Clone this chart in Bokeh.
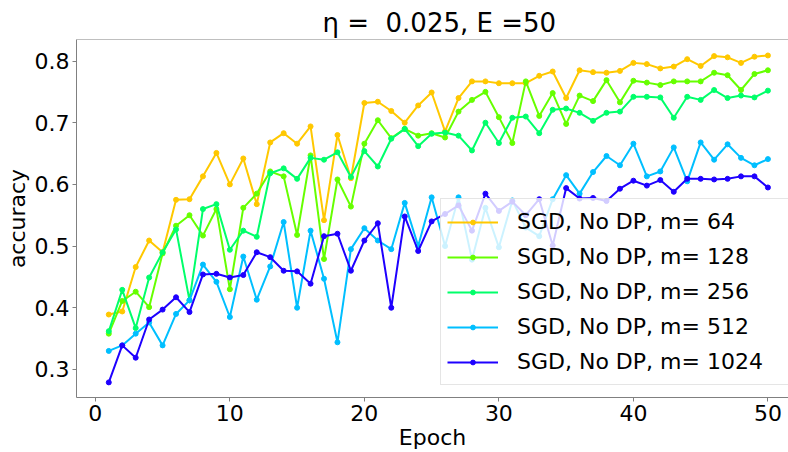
from bokeh.plotting import figure
from bokeh.models import Range1d, FixedTicker, Legend, LegendItem, Span
from bokeh.embed import file_html
from bokeh.resources import INLINE

# Test accuracy per epoch for plain SGD (no differential privacy) at several batch sizes
epochs = list(range(1, 51))

acc_m64 = [0.389, 0.394, 0.466, 0.509, 0.490, 0.575, 0.576, 0.613, 0.651, 0.600,
           0.642, 0.568, 0.668, 0.683, 0.666, 0.694, 0.542, 0.680, 0.610, 0.732,
           0.734, 0.719, 0.700, 0.728, 0.749, 0.686, 0.740, 0.767, 0.767, 0.764,
           0.764, 0.764, 0.776, 0.783, 0.740, 0.785, 0.782, 0.781, 0.784, 0.797,
           0.795, 0.788, 0.791, 0.803, 0.792, 0.808, 0.806, 0.797, 0.807, 0.809]

acc_m128 = [0.358, 0.411, 0.426, 0.401, 0.488, 0.533, 0.550, 0.517, 0.560, 0.430,
            0.562, 0.585, 0.621, 0.613, 0.518, 0.647, 0.479, 0.608, 0.564, 0.666,
            0.704, 0.675, 0.690, 0.679, 0.683, 0.676, 0.718, 0.737, 0.750, 0.709,
            0.667, 0.767, 0.711, 0.748, 0.698, 0.744, 0.735, 0.769, 0.733, 0.768,
            0.765, 0.761, 0.767, 0.767, 0.767, 0.781, 0.777, 0.753, 0.779, 0.785]

acc_m256 = [0.362, 0.429, 0.367, 0.449, 0.490, 0.527, 0.412, 0.560, 0.568, 0.494,
            0.525, 0.515, 0.618, 0.626, 0.609, 0.643, 0.640, 0.652, 0.612, 0.654,
            0.629, 0.674, 0.690, 0.662, 0.682, 0.684, 0.679, 0.655, 0.700, 0.667,
            0.708, 0.710, 0.683, 0.721, 0.723, 0.716, 0.703, 0.716, 0.718, 0.742,
            0.742, 0.741, 0.708, 0.742, 0.737, 0.753, 0.740, 0.744, 0.741, 0.752]

acc_m512 = [0.330, 0.339, 0.358, 0.376, 0.339, 0.390, 0.412, 0.470, 0.442, 0.385,
            0.483, 0.413, 0.467, 0.539, 0.400, 0.525, 0.447, 0.344, 0.495, 0.529,
            0.509, 0.495, 0.570, 0.500, 0.579, 0.500, 0.579, 0.478, 0.562, 0.498,
            0.574, 0.530, 0.516, 0.576, 0.615, 0.585, 0.620, 0.646, 0.631, 0.666,
            0.613, 0.621, 0.660, 0.605, 0.668, 0.640, 0.665, 0.643, 0.631, 0.641]

acc_m1024 = [0.279, 0.339, 0.319, 0.381, 0.397, 0.417, 0.393, 0.454, 0.455, 0.449,
             0.453, 0.490, 0.482, 0.460, 0.459, 0.439, 0.516, 0.520, 0.460, 0.509,
             0.537, 0.400, 0.548, 0.492, 0.540, 0.552, 0.566, 0.525, 0.585, 0.557,
             0.572, 0.550, 0.576, 0.501, 0.594, 0.577, 0.578, 0.573, 0.593, 0.606,
             0.598, 0.607, 0.588, 0.609, 0.609, 0.608, 0.609, 0.613, 0.613, 0.595]

series_labels = ["SGD, No DP, m= 64", "SGD, No DP, m= 128", "SGD, No DP, m= 256",
                 "SGD, No DP, m= 512", "SGD, No DP, m= 1024"]
series_colors = ["#FFC800", "#66FF00", "#00FF6A", "#00BFFF", "#1E00FF"]
series_values = [acc_m64, acc_m128, acc_m256, acc_m512, acc_m1024]

x_ticks = [0, 10, 20, 30, 40, 50]
y_ticks = [0.3, 0.4, 0.5, 0.6, 0.7, 0.8]

FONT = "DejaVu Sans"
AXIS_GREY = "#808080"

p = figure(width=788, height=452, output_backend="svg", toolbar_location=None,
           x_range=Range1d(-1.40, 51.53), y_range=Range1d(0.2545, 0.8349),
           min_border_left=76, min_border_right=0, min_border_top=39,
           min_border_bottom=52)

p.title.text = "η =\u00a0 0.025, E =50"
p.title.align = "left"
p.title.offset = 246
p.title.text_font = FONT
p.title.text_font_size = "26px"
p.title.text_font_style = "normal"
p.title.text_color = "#000000"
p.title.standoff = 4

p.outline_line_color = None
p.xgrid.visible = False
p.ygrid.visible = False
p.background_fill_color = "white"
p.border_fill_color = "white"

# top spine of the frame
p.add_layout(Span(location=0.8349, dimension="width", line_color=AXIS_GREY, line_width=1))

for ax, ticks, label in ((p.xaxis[0], x_ticks, "Epoch"), (p.yaxis[0], y_ticks, "accuracy")):
    ax.ticker = FixedTicker(ticks=ticks)
    ax.axis_label = label
    ax.axis_label_text_font = FONT
    ax.axis_label_text_font_size = "22px"
    ax.axis_label_text_font_style = "normal"
    ax.axis_label_text_color = "#000000"
    ax.major_label_text_font = FONT
    ax.major_label_text_font_size = "22px"
    ax.major_label_text_color = "#000000"
    ax.axis_line_color = AXIS_GREY
    ax.major_tick_line_color = AXIS_GREY
    ax.major_tick_out = 4
    ax.major_tick_in = 0
    ax.minor_tick_line_color = None
    ax.major_label_standoff = 3
    ax.axis_label_standoff = 2
p.xaxis[0].axis_label_standoff = 1

items = []
for label, color, vals in zip(series_labels, series_colors, series_values):
    ln = p.line(epochs, vals, line_color=color, line_width=2)
    dots = p.scatter(epochs, vals, size=5, fill_color=color, line_color=color)
    items.append(LegendItem(label=label, renderers=[ln, dots]))

legend = Legend(items=items, location=(364, 12),
                label_text_font=FONT, label_text_font_size="22px",
                label_text_color="#000000",
                glyph_width=51, glyph_height=12, label_height=33, label_width=265,
                label_standoff=19, spacing=2, padding=6, margin=0,
                border_line_color="#cccccc", border_line_width=1,
                background_fill_color="white", background_fill_alpha=0.8)
p.add_layout(legend)

open("out.html", "w").write(file_html(p, INLINE))
